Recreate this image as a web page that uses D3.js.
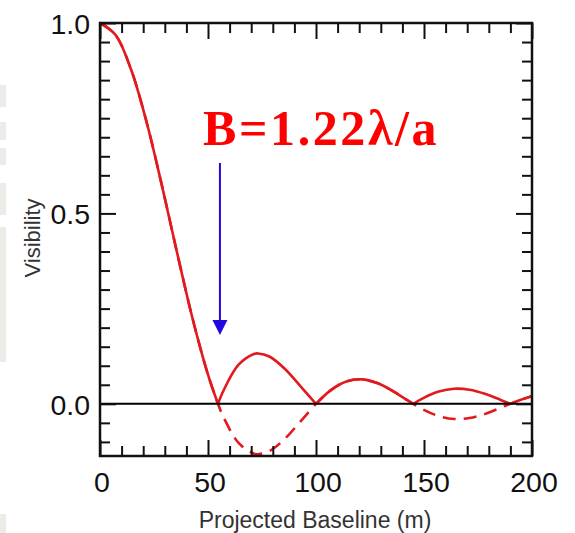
<!DOCTYPE html>
<html><head><meta charset="utf-8">
<script src="https://cdn.jsdelivr.net/npm/d3@7"></script>
<style>body{margin:0;background:#fff}svg{display:block}</style>
</head><body>
<svg id="c" width="575" height="533"></svg>
<script>
// Projected baseline (m) and signed visibility
const baselineM = [0, 7.13, 14.25, 21.38, 28.51, 35.64, 42.76, 49.89, 54.62, 57.02, 64.14, 71.27, 73.2, 78.4, 85.52, 92.65, 99.78, 100, 106.9, 114.03, 121.16, 128.29, 135.41, 142.54, 145.01, 149.67, 156.79, 163.92, 171.05, 178.17, 185.3, 189.92, 192.43, 199.56, 200];
const visibility = [1, 0.969, 0.880, 0.744, 0.577, 0.398, 0.226, 0.0785, 0, -0.033, -0.1027, -0.131, -0.1323, -0.1242, -0.0922, -0.0473, -0.0013, 0, 0.0361, 0.0587, 0.0643, 0.0545, 0.034, 0.0087, 0, -0.015, -0.0321, -0.0397, -0.0372, -0.0265, -0.0108, 0, 0.0056, 0.0191, 0.0197];
const xMajorTicks = [0, 50, 100, 150, 200];
const xMinorTicks = [10, 20, 30, 40, 60, 70, 80, 90, 110, 120, 130, 140, 160, 170, 180, 190];
const yMajorTicks = [0, 0.5, 1.0];
const yMinorTicks = [-0.1, -0.05, 0.05, 0.1, 0.15, 0.2, 0.25, 0.3, 0.35, 0.4, 0.45, 0.55, 0.6, 0.65, 0.7, 0.75, 0.8, 0.85, 0.9, 0.95];
const xTitle = "Projected Baseline (m)";
const yTitle = "Visibility";
const annotation = "B=1.22\u03bb/a";
const arrowBaseline = 54.6;
const bgBlocks = [[85,107],[122,140],[148,165],[183,215],[227,362],[514,533]];

const svg = d3.select("#c");
// faint slide remnants on left edge
svg.selectAll("rect.bg").data(bgBlocks).enter().append("rect")
  .attr("x",0).attr("width",6).attr("y",d=>d[0]).attr("height",d=>d[1]-d[0]).attr("fill","#ebebe8");

const L=100,R=532,T=23,B=456;
const x = d3.scaleLinear().domain([0,200]).range([L,R]);
const y = d3.scaleLinear().domain([-0.137,1.0]).range([B,T]);

const font = "'Liberation Sans', Arial, Helvetica, sans-serif";

// data paths
const pts = baselineM.map((b,i)=>({b, v: visibility[i]}));
const red = "#e2191e";
svg.append("path").datum(pts)
  .attr("d", d3.line().x(d=>x(d.b)).y(d=>y(d.v)).curve(d3.curveCatmullRom))
  .attr("fill","none").attr("stroke",red).attr("stroke-width",2.6).attr("stroke-dasharray","13,8");
// solid |V| split into lobes at zeros
const lobes=[]; let cur=[];
pts.forEach((p,i)=>{ cur.push({b:p.b, v:Math.abs(p.v)}); if(p.v===0 && i>0){ lobes.push(cur); cur=[{b:p.b,v:0}]; } });
if(cur.length>1) lobes.push(cur);
svg.selectAll("path.lobe").data(lobes).enter().append("path")
  .attr("d", d3.line().x(d=>x(d.b)).y(d=>y(d.v)).curve(d3.curveCatmullRom))
  .attr("fill","none").attr("stroke",red).attr("stroke-width",2.6);

// zero line
svg.append("line").attr("x1",L).attr("x2",R).attr("y1",y(0)).attr("y2",y(0))
  .attr("stroke","#000").attr("stroke-width",2);

function styleAxis(g){ g.select(".domain").remove(); g.selectAll("line").attr("stroke","#111").attr("stroke-width",2); g.selectAll("text").remove(); }
const axes = [
  [d3.axisBottom(x), `translate(0,${B})`, xMajorTicks, xMinorTicks],
  [d3.axisTop(x), `translate(0,${T})`, xMajorTicks, xMinorTicks],
  [d3.axisLeft(y), `translate(${L},0)`, yMajorTicks, yMinorTicks],
  [d3.axisRight(y), `translate(${R},0)`, yMajorTicks, yMinorTicks]
];
axes.forEach(([ax,tr,maj,min])=>{
  svg.append("g").attr("transform",tr).call(ax.tickValues(maj).tickSize(-16)).call(styleAxis);
  svg.append("g").attr("transform",tr).call(ax.tickValues(min).tickSize(-10)).call(styleAxis);
});
// frame
svg.append("rect").attr("x",L).attr("y",T).attr("width",R-L).attr("height",B-T)
  .attr("fill","none").attr("stroke","#111").attr("stroke-width",2.5);

// tick labels
svg.selectAll("text.xl").data(xMajorTicks).enter().append("text")
  .attr("x",d=>x(d)+2).attr("y",492).attr("text-anchor","middle")
  .attr("font-family",font).attr("font-size",28.5).attr("fill","#111").text(d=>d);
svg.selectAll("text.yl").data(yMajorTicks).enter().append("text")
  .attr("x",90).attr("y",d=>y(d)+11).attr("text-anchor","end")
  .attr("font-family",font).attr("font-size",28.5).attr("fill","#111").text(d=>d3.format(".1f")(d));

// titles
svg.append("text").attr("x",315).attr("y",528).attr("text-anchor","middle")
  .attr("font-family",font).attr("font-size",23).attr("fill","#333").text(xTitle);
svg.append("text").attr("transform","translate(40,238) rotate(-90)").attr("text-anchor","middle")
  .attr("font-family",font).attr("font-size",22).attr("fill","#333").text(yTitle);

// annotation
svg.append("text").attr("x",203).attr("y",145)
  .attr("font-family","'Liberation Serif','Times New Roman',serif").attr("font-weight","bold")
  .attr("font-size",50).attr("letter-spacing",2.6).attr("fill","#ff0000").text(annotation);
const ax0 = x(arrowBaseline)+0;
const blue = "#2208e0";
svg.append("line").attr("x1",ax0+2).attr("x2",ax0+2).attr("y1",163).attr("y2",322)
  .attr("stroke",blue).attr("stroke-width",2);
svg.append("path").attr("d",`M${ax0+2-7.5},320 L${ax0+2+7.5},320 L${ax0+2},335 Z`).attr("fill",blue);
</script>
</body></html>
